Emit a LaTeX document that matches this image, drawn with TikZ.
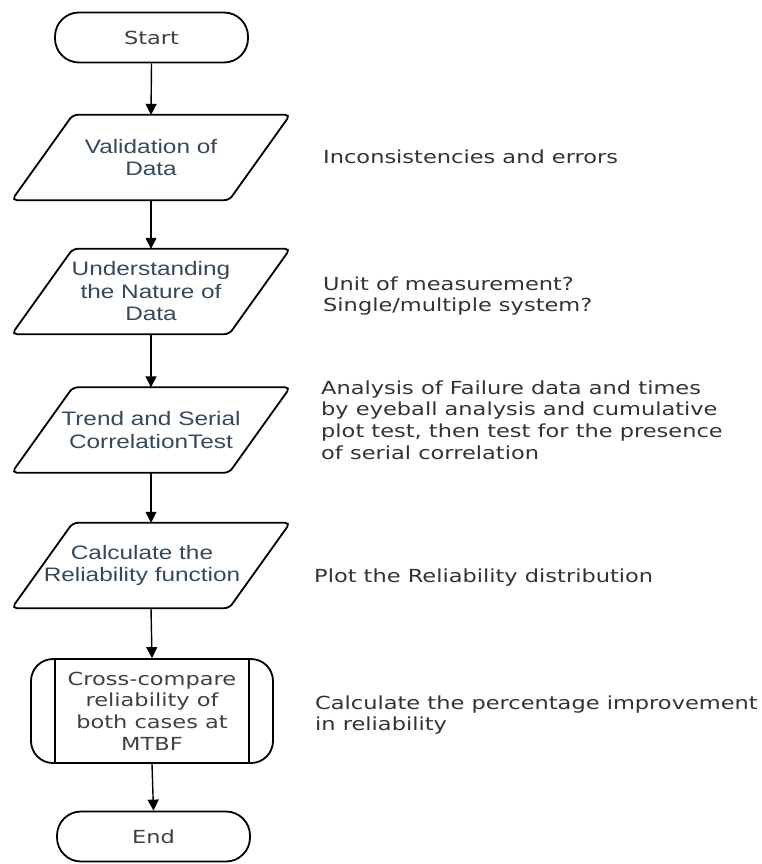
\documentclass[tikz,border=0pt]{standalone}
\usepackage{fontspec}
\setmainfont{DejaVu Sans}
\newfontfamily\verd{DejaVu Sans}[FakeStretch=1.25]
\newfontfamily\arl{Liberation Sans}[FakeStretch=1.25]
\usetikzlibrary{arrows.meta,calc}
\definecolor{lbl}{RGB}{52,73,94}
\definecolor{gtx}{RGB}{64,64,64}
\definecolor{rtx}{RGB}{51,51,51}
\begin{document}
\begin{tikzpicture}[x=1pt,y=-1pt,
  term/.style={draw,line width=1.8pt,rounded corners=24pt,minimum width=193pt,minimum height=50pt,inner sep=0pt,font=\verd\fontsize{18}{22}\selectfont,text=gtx},
  para/.style={minimum width=278pt,minimum height=85pt,inner sep=0pt,align=center,font=\arl\fontsize{19.5}{22.5}\selectfont,text=lbl},
  pshape/.style={draw,line width=1.8pt,rounded corners=5pt},
  sub/.style={draw,line width=1.8pt,rounded corners=22pt,minimum width=242pt,minimum height=104pt,inner sep=0pt,align=center,font=\verd\fontsize{18}{21.7}\selectfont,text=gtx},
  note/.style={anchor=north west,inner sep=0pt,align=left,font=\verd\fontsize{18}{21.7}\selectfont,text=rtx},
  arr/.style={line width=1.4pt,-{Triangle[width=11pt,length=11pt]}}
]
\useasboundingbox[fill=white] (0,0) rectangle (761,864);

\node[term] (start) at (151.5,37.5) {Start};
\node[para] (val) at (151,157.5) {Validation of\\Data};
\node[para] (und) at (151,291.5) {Understanding\\the Nature of\\Data};
\node[para] (trd) at (151,430) {Trend and Serial\\CorrelationTest};
\node[para] (cal) at (151,565.5) {Calculate the\hspace*{18pt}\\Reliability function\hspace*{18pt}};
\node[sub] (cmp) at (152,711) {Cross-compare\\reliability of\\both cases at\\MTBF};
\node[term] (fin) at (153.5,836.5) {End};

\foreach \n in {val,und,trd,cal}{
  \draw[pshape] (\n.south west) -- ($(\n.north west)+(61,0)$) -- (\n.north east) -- ($(\n.south east)+(-61,0)$) -- cycle;
}
\draw[line width=1.8pt] ($(cmp.north west)+(25,0)$) -- ($(cmp.south west)+(25,0)$);
\draw[line width=1.8pt] ($(cmp.north east)+(-25,0)$) -- ($(cmp.south east)+(-25,0)$);

\draw[arr] (start.south) -- (val.north);
\draw[arr] (val.south) -- (und.north);
\draw[arr] (und.south) -- (trd.north);
\draw[arr] (trd.south) -- (cal.north);
\draw[arr] (cal.south) -- (cmp.north);
\draw[arr] (cmp.south) -- (fin.north);

\node[note] (n1) at (323,149.3) {Inconsistencies and errors};
\node[note] (n2) at (323,276.3) {Unit of measurement?\\Single/multiple system?};
\node[note] (n3) at (321,380.3) {Analysis of Failure data and times\\by eyeball analysis and cumulative\\plot test, then test for the presence\\of serial correlation};
\node[note] (n4) at (314,568.3) {Plot the Reliability distribution};
\node[note] (n5) at (315,695.3) {Calculate the percentage improvement\\in reliability};
\end{tikzpicture}
\end{document}
